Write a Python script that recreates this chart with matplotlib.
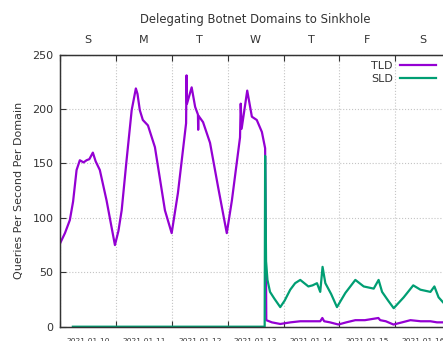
import pandas as pd
import matplotlib
matplotlib.use('Agg')
import matplotlib.pyplot as plt

# Data (hours since 2021-01-09 00:00)
start = pd.Timestamp('2021-01-09 00:00')

tld_hours = [0, 2, 4.1, 5.5, 7.0, 8.4, 10, 11.3, 12.5, 14.0, 15.2, 17.0, 19.9, 22, 23.5,
             25, 26.4, 28.5, 30.7, 32.5, 33.2, 34.2, 35.5, 37.7, 40.7, 45.0, 47.9,
             50.6, 54.1, 54.3, 54.5, 56.5, 58.0, 59.2, 59.3, 59.4, 61.4, 64.4,
             67.9, 71.6, 73.8, 77.3, 77.6, 78, 80.4, 82.4, 84.5, 86.7, 88.1, 88.6,
             91, 94.6, 99, 103.2, 108, 111.8, 112.7, 113.5, 116, 119.6, 123, 126.9,
             131, 136.8, 137.6, 140, 143.3, 147, 150.6, 155, 159.2, 162, 164.8, 170]
tld_values = [77, 86, 98, 115, 144, 153, 151, 153, 154, 160, 152, 144, 116, 92, 75,
              88, 107, 153, 199, 219, 214, 199, 190, 185, 165, 107, 86,
              123, 187, 231, 205, 220, 202, 195, 181, 194, 188, 169,
              128, 86, 116, 174, 205, 182, 217, 193, 190, 179, 164, 6,
              4, 2.5, 4, 5, 5, 5, 8, 5, 4, 2, 4, 6,
              6, 8, 6, 5, 2, 4, 6, 5, 5, 4, 4, 3]

sld_hours = [5.4, 87.9, 88.1, 88.5, 89.1, 90.2, 92, 94.6, 96.5, 98.9, 101, 103.2,
             106.7, 108.5, 110.4, 111.8, 112.8, 114, 116.5, 119, 122.6, 126.9, 130.5,
             134.8, 136.9, 138.4, 141, 143.4, 147.7, 151.8, 154.9, 159.2, 160.9,
             162.7, 164.8, 168]
sld_values = [0, 0, 157, 60, 43, 32, 26, 18, 24, 34, 40, 43,
              37, 38, 40, 32, 55, 40, 30, 18, 31, 43, 37,
              35, 43, 32, 24, 17, 27, 38, 34, 32, 37,
              27, 22, 18]

day_letters = ['S', 'M', 'T', 'W', 'T', 'F', 'S', 'S']

tld_t = start + pd.to_timedelta(tld_hours, unit='h')
sld_t = start + pd.to_timedelta(sld_hours, unit='h')

fig = plt.figure(figsize=(4.43, 3.41), dpi=100)
W, H = 443.0, 341.0
x0, day_px = 60.3, 55.8
# plot area runs past the right edge of the picture, like the cropped original
ax = fig.add_axes([x0 / W, 1 - 326.7 / H, 8 * day_px / W, (326.7 - 54.7) / H])

ax.plot(tld_t, tld_values, color='#9400D3', lw=1.6, label='TLD')
ax.plot(sld_t, sld_values, color='#009E73', lw=1.6, label='SLD')

ax.set_xlim(start, start + pd.Timedelta(days=8))
ax.set_ylim(0, 250)
ax.set_yticks([0, 50, 100, 150, 200, 250])

days = [start + pd.Timedelta(days=i) for i in range(9)]
noons = [start + pd.Timedelta(days=i, hours=12) for i in range(8)]
ax.set_xticks(days)
ax.set_xticklabels([])
ax.set_xticks(noons, minor=True)
ax.set_xticklabels([(d + pd.Timedelta(days=1)).strftime('%Y-%m-%d') for d in noons],
                   minor=True, fontsize=5.4, color='#333333')
ax.tick_params(axis='x', which='minor', length=0, pad=8)
ax.tick_params(axis='x', which='major', direction='in', length=4, color='#333333')
ax.tick_params(axis='y', direction='in', length=4, labelsize=8, pad=5,
               color='#333333', labelcolor='#333333')

ax.grid(True, which='major', color='#c4c4c4', linestyle=':', linewidth=0.8)

for s in ax.spines.values():
    s.set_color('#333333')
    s.set_linewidth(1.0)

# top axis with weekday letters
top = ax.twiny()
top.set_xlim(ax.get_xlim())
top.set_xticks(days)
top.set_xticklabels([])
top.set_xticks(noons, minor=True)
top.set_xticklabels(day_letters, minor=True, fontsize=8, color='#333333')
top.tick_params(axis='x', which='minor', length=0, pad=7)
top.tick_params(axis='x', which='major', direction='in', length=4, color='#333333')
for s in top.spines.values():
    s.set_color('#333333')

ax.set_ylabel('Queries Per Second Per Domain', fontsize=8, color='#333333', labelpad=6)

fig.text(255 / W, 1 - 20 / H, 'Delegating Botnet Domains to Sinkhole',
         ha='center', va='center', fontsize=8.4, color='#333333')

ax.legend(loc='upper right', bbox_to_anchor=(436 / W, 1 - 61 / H),
          bbox_transform=fig.transFigure, frameon=False, markerfirst=False,
          fontsize=8, handlelength=3.2, handletextpad=0.7, borderpad=0,
          borderaxespad=0, labelspacing=0.3, labelcolor='#333333')

fig.savefig('out.png', dpi=100)
